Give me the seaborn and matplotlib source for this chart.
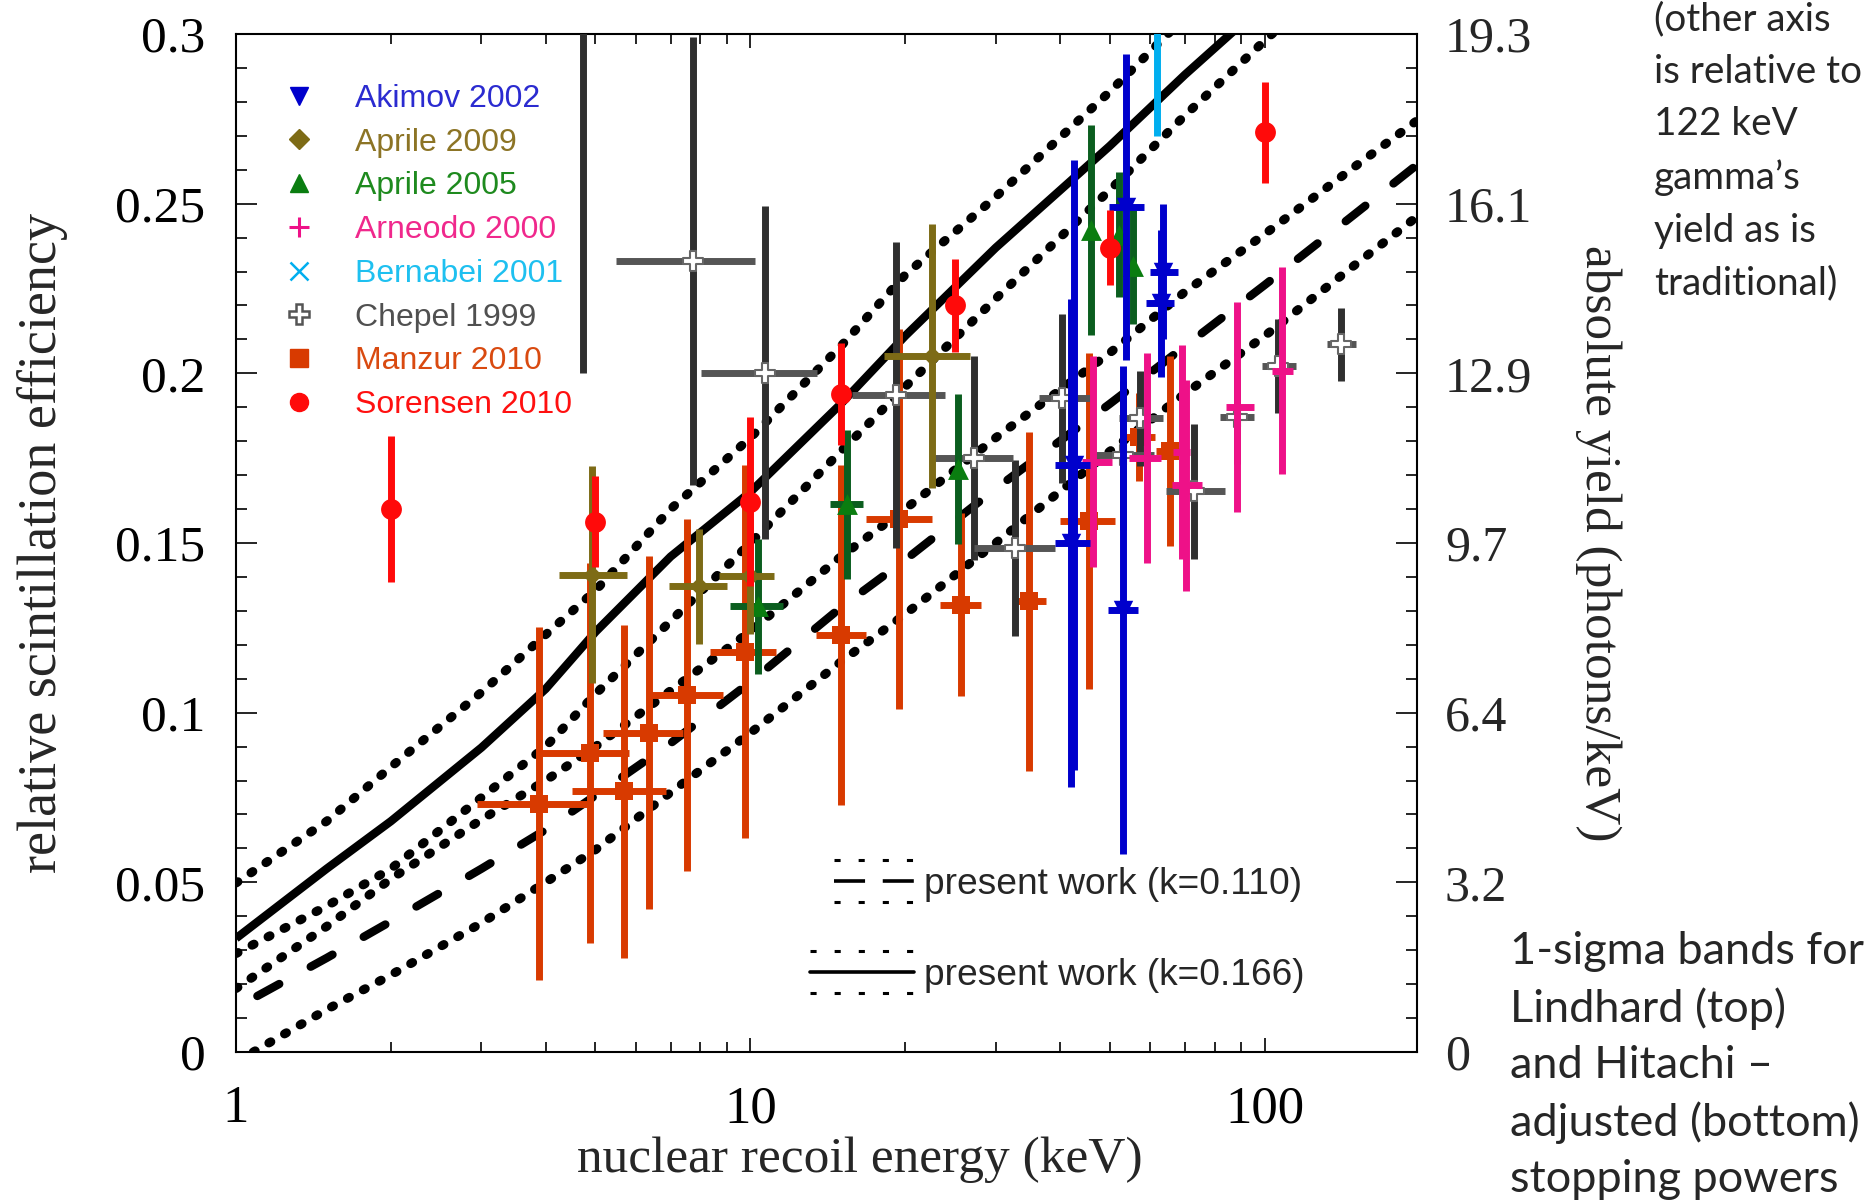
import numpy as np
import pandas as pd
import matplotlib
matplotlib.use("Agg")
import matplotlib.pyplot as plt
import seaborn as sns
from matplotlib.lines import Line2D
from matplotlib.legend_handler import HandlerBase
from matplotlib.ticker import FixedLocator, FixedFormatter, NullFormatter, MultipleLocator, LogLocator

# ---------------- model bands (present work) ----------------
curve_x = [1, 1.5, 2, 3, 4, 5, 7, 10, 15, 20, 30, 50, 70, 100, 150, 200]
lind_upper = [0.0498, 0.068, 0.084, 0.106, 0.123, 0.136, 0.160, 0.181, 0.208, 0.229, 0.252, 0.283, 0.305, 0.327, 0.352, 0.370]
lind_mid = [0.0335, 0.054, 0.068, 0.0897, 0.107, 0.1238, 0.146, 0.165, 0.191, 0.211, 0.237, 0.267, 0.288, 0.309, 0.333, 0.350]
lind_lower = [0.029, 0.043, 0.054, 0.075, 0.090, 0.1055, 0.127, 0.150, 0.177, 0.196, 0.222, 0.254, 0.276, 0.298, 0.322, 0.340]
hit_upper = [0.0187, 0.037, 0.051, 0.0685, 0.080, 0.090, 0.1065, 0.124, 0.146, 0.160, 0.181, 0.206, 0.224, 0.241, 0.261, 0.275]
hit_mid_x = [1.1, 1.5, 2, 3, 4, 5, 7, 10, 15, 20, 30, 50, 70, 100, 150, 200]
hit_mid = [0.0165, 0.0277, 0.0385, 0.054, 0.0655, 0.0756, 0.091, 0.109, 0.131, 0.145, 0.166, 0.191, 0.208, 0.226, 0.247, 0.262]
hit_lower_x = [1.08, 1.5, 2, 3, 4, 5, 7, 10, 15, 20, 30, 50, 70, 100, 150, 200]
hit_lower = [0.0, 0.0125, 0.0227, 0.038, 0.050, 0.0596, 0.0765, 0.094, 0.115, 0.129, 0.150, 0.177, 0.194, 0.211, 0.232, 0.2467]

# ---------------- measurements ----------------
# Manzur 2010
man_x = [3.88, 4.87, 5.67, 6.34, 7.53, 9.78, 15.0, 19.5, 25.7, 34.9, 45.5, 57.1, 65.6]
man_y = [0.0731, 0.0882, 0.0768, 0.0941, 0.1052, 0.118, 0.1229, 0.157, 0.1318, 0.1328, 0.1566, 0.1812, 0.177]
man_xlo = [2.94, 3.92, 4.50, 5.17, 6.37, 8.34, 13.4, 16.8, 23.4, 32.4, 40.1, 53.8, 61.6]
man_xhi = [4.83, 5.82, 6.85, 7.40, 8.85, 11.2, 16.8, 22.6, 28.1, 37.6, 51.1, 61.1, 68.9]
man_err = [0.052, 0.056, 0.049, 0.052, 0.052, 0.055, 0.050, 0.056, 0.027, 0.050, 0.0495, 0.013, 0.028]

# Chepel 1999
che_x = [4.73, 7.74, 10.7, 19.2, 27.2, 32.7, 40.3, 53.0, 57.3, 72.8, 88.5, 106, 141]
che_y = [0.33, 0.2332, 0.2002, 0.1936, 0.175, 0.1486, 0.1926, 0.1758, 0.1868, 0.1652, 0.1872, 0.2022, 0.2085]
che_xlo = [4.73, 5.47, 8.03, 15.8, 22.4, 27.2, 36.4, 46.3, 52.2, 64.2, 81.8, 98.8, 132]
che_xhi = [4.73, 10.2, 13.5, 23.9, 32.4, 39.2, 46.0, 61.0, 63.4, 83.6, 95.5, 115, 150.6]
che_err = [0.13, 0.066, 0.049, 0.045, 0.030, 0.026, 0.025, 0.022, 0.014, 0.020, 0.014, 0.0138, 0.0108]

# Arneodo 2000
arn_x = [46.3, 59.1, 69.1, 70.5, 88.5, 108]
arn_y = [0.174, 0.175, 0.1768, 0.167, 0.190, 0.2007]
arn_xlo = [44.2, 54.4, 66.5, 66.1, 84.3, 103.3]
arn_xhi = [50.5, 62.8, 71.5, 75.6, 95.2, 113.5]
arn_err = [0.031, 0.031, 0.0315, 0.031, 0.031, 0.0305]

# Aprile 2005
a05_x = [10.35, 15.4, 25.4, 46.0, 52.2, 55.5]
a05_y = [0.1313, 0.1614, 0.1718, 0.2422, 0.2409, 0.2316]
a05_xlo = [9.12, 14.3, 25.4, 46.0, 52.2, 55.5]
a05_xhi = [11.6, 16.6, 25.4, 46.0, 52.2, 55.5]
a05_err = [0.020, 0.022, 0.022, 0.031, 0.0185, 0.017]

# Aprile 2009
a09_x = [4.93, 7.95, 9.97, 22.6]
a09_y = [0.1407, 0.1372, 0.1402, 0.2051]
a09_xlo = [4.25, 6.96, 8.71, 18.2]
a09_xhi = [5.75, 9.02, 11.1, 26.7]
a09_err = [0.032, 0.017, 0.017, 0.039]

# Akimov 2002
aki_x = [42.7, 42.1, 53.7, 53.0, 63.5, 62.8]
aki_y = [0.173, 0.150, 0.249, 0.1303, 0.230, 0.2206]
aki_xlo = [39.2, 39.2, 49.8, 49.6, 60.0, 58.9]
aki_xhi = [45.7, 45.7, 58.2, 56.7, 67.9, 66.8]
aki_err = [0.090, 0.072, 0.045, 0.072, 0.020, 0.0216]

# Sorensen 2010
sor_x = [2, 5, 10, 15, 25, 50, 100]
sor_y = [0.160, 0.1563, 0.1622, 0.194, 0.220, 0.237, 0.271]
sor_err = [0.0215, 0.0135, 0.025, 0.015, 0.0138, 0.011, 0.015]

# Bernabei 2001 (central value above the frame)
ber_x = [61.8]
ber_y = [0.33]
ber_err = [0.06]

# axes ticks
y_ticks = [0, 0.05, 0.1, 0.15, 0.2, 0.25, 0.3]
y_ticklabels = ["0", "0.05", "0.1", "0.15", "0.2", "0.25", "0.3"]
yield_ticklabels = ["0", "3.2", "6.4", "9.7", "12.9", "16.1", "19.3"]
x_ticks = [1, 10, 100]
x_ticklabels = ["1", "10", "100"]

# ---------------- style ----------------
sns.set_theme(style="ticks")
plt.rcParams["font.family"] = ["Liberation Serif", "DejaVu Serif"]

C_AKI = "#0000cc"
C_A09 = "#7d6b16"
C_A05 = "#0b5e1f"
C_A05M = "#0a7d10"
C_ARN = "#ee1188"
C_BER = "#00aeef"
C_CHE_V = "#2f2f2f"
C_CHE_H = "#555555"
C_MAN = "#d83a00"
C_SOR = "#ff0a0a"

fig = plt.figure(figsize=(18.72, 12.02), dpi=100)
ax = fig.add_axes([0.1261, 0.1248, 0.6309, 0.8469])
ax.set_xscale("log")

# ---------------- curves ----------------
def draw_curve(xs, ys, kind):
    sns.lineplot(x=xs, y=ys, ax=ax, color="black", sort=False, estimator=None,
                 linewidth=6, zorder=2)
    ln = ax.lines[-1]
    if kind == "dot":
        ln.set_linewidth(6.5)
        ln.set_dashes((0.25, 1.75))
        ln.set_dash_capstyle("round")
    elif kind == "dash":
        ln.set_dashes((3.0, 4.3))
        ln.set_dash_capstyle("round")
    ln.set_solid_capstyle("butt")

draw_curve(curve_x, lind_upper, "dot")
draw_curve(curve_x, lind_mid, "solid")
draw_curve(curve_x, lind_lower, "dot")
draw_curve(curve_x, hit_upper, "dot")
draw_curve(hit_mid_x, hit_mid, "dash")
draw_curve(hit_lower_x, hit_lower, "dot")

# ---------------- error bars + markers ----------------
EW = 5

def xerr_of(x, lo, hi):
    x = np.asarray(x, float)
    return [x - np.asarray(lo, float), np.asarray(hi, float) - x]

def bars(x, y, yerr, xlo=None, xhi=None, vcol="k", hcol=None, z=3):
    ax.errorbar(x, y, yerr=yerr, fmt="none", ecolor=vcol, elinewidth=EW, capsize=0, zorder=z)
    if xlo is not None:
        ax.errorbar(x, y, xerr=xerr_of(x, xlo, xhi), fmt="none", ecolor=hcol or vcol,
                    elinewidth=EW, capsize=0, zorder=z)

def marks(x, y, marker, size, color, edge=None, lw=0, z=4):
    sns.scatterplot(x=x, y=y, marker=marker, s=size ** 2, color=color,
                    edgecolor=edge if edge else color, linewidth=lw, ax=ax, zorder=z, legend=False)

bars(man_x, man_y, man_err, man_xlo, man_xhi, C_MAN, z=3)
marks(man_x, man_y, "s", 13, C_MAN, z=3.1)

bars(che_x, che_y, che_err, che_xlo, che_xhi, C_CHE_V, C_CHE_H, z=3.2)
marks(che_x, che_y, "P", 15, "white", edge="#666666", lw=1.5, z=3.3)

bars(arn_x, arn_y, arn_err, arn_xlo, arn_xhi, C_ARN, z=3.4)

bars(a05_x, a05_y, a05_err, a05_xlo, a05_xhi, C_A05, z=3.5)
marks(a05_x, a05_y, "^", 15, C_A05M, z=3.6)

bars(a09_x, a09_y, a09_err, a09_xlo, a09_xhi, C_A09, z=3.7)
marks(a09_x, a09_y, "D", 10, C_A09, z=3.8)

bars(aki_x, aki_y, aki_err, aki_xlo, aki_xhi, C_AKI, z=3.9)
marks(aki_x, aki_y, "v", 14, C_AKI, z=4.0)

bars(sor_x, sor_y, sor_err, None, None, C_SOR, z=4.1)
marks(sor_x, sor_y, "o", 15, C_SOR, z=4.2)

bars(ber_x, ber_y, ber_err, None, None, C_BER, z=4.3)

# ---------------- axes ----------------
ax.set_xlim(1, 198)
ax.set_ylim(0, 0.3)
ax.xaxis.set_major_locator(FixedLocator(x_ticks))
ax.xaxis.set_major_formatter(FixedFormatter(x_ticklabels))
ax.xaxis.set_minor_locator(LogLocator(base=10, subs=np.arange(2, 10), numticks=20))
ax.xaxis.set_minor_formatter(NullFormatter())
ax.yaxis.set_major_locator(FixedLocator(y_ticks))
ax.yaxis.set_major_formatter(FixedFormatter(y_ticklabels))
ax.yaxis.set_minor_locator(MultipleLocator(0.01))

ax.tick_params(axis="both", which="both", direction="in", top=True, bottom=True,
               left=True, right=False, width=1.2, color="black", labelcolor="black")
ax.tick_params(axis="y", which="major", length=15, pad=22, labelsize=37)
ax.tick_params(axis="y", which="minor", length=8)
ax.tick_params(axis="x", which="major", length=10, pad=24, labelsize=38)
ax.tick_params(axis="x", which="minor", length=7)
for s in ax.spines.values():
    s.set_color("black")
    s.set_linewidth(1.5)

ax.set_xlabel("nuclear recoil energy (keV)", fontsize=37)
ax.xaxis.set_label_coords(0.528, -0.083)
ax.set_ylabel("relative scintillation efficiency", fontsize=39, va="center")
ax.yaxis.set_label_coords(-0.164, 0.5)

ax2 = ax.twinx()
ax2.set_ylim(0, 0.3)
ax2.yaxis.set_major_locator(FixedLocator(y_ticks))
ax2.yaxis.set_major_formatter(FixedFormatter(yield_ticklabels))
ax2.yaxis.set_minor_locator(MultipleLocator(0.01))
ax2.tick_params(axis="y", which="both", direction="in", width=1.2, color="black")
ax2.tick_params(axis="y", which="major", length=15, pad=20, labelsize=36)
ax2.tick_params(axis="y", which="minor", length=8)
ax2.set_ylabel("absolute yield (photons/keV)", fontsize=37, rotation=270, va="center")
ax2.yaxis.set_label_coords(1.153, 0.5)
for s in ax2.spines.values():
    s.set_visible(False)

# ---------------- series legend ----------------
leg_names = ["Akimov 2002", "Aprile 2009", "Aprile 2005", "Arneodo 2000",
             "Bernabei 2001", "Chepel 1999", "Manzur 2010", "Sorensen 2010"]
leg_text_colors = ["#2b2bd0", "#8c7425", "#1e8a1e", "#f0288c", "#1ec0f0", "#505050", "#d94a10", "#ff1010"]
handles = [
    Line2D([], [], ls="none", marker="v", ms=13, color=C_AKI),
    Line2D([], [], ls="none", marker="D", ms=10, color=C_A09),
    Line2D([], [], ls="none", marker="^", ms=13, color="#0a7d10"),
    Line2D([], [], ls="none", marker="+", ms=15, mew=2.2, color=C_ARN),
    Line2D([], [], ls="none", marker="x", ms=13, mew=1.8, color=C_BER),
    Line2D([], [], ls="none", marker="P", ms=14, mfc="white", mec="#555555", mew=1.8),
    Line2D([], [], ls="none", marker="s", ms=13, color=C_MAN),
    Line2D([], [], ls="none", marker="o", ms=13, color=C_SOR),
]
leg1 = ax.legend(handles, leg_names, loc="upper left", bbox_to_anchor=(0.040, 0.951),
                 frameon=False, handlelength=1.0, handletextpad=1.25,
                 labelspacing=0.43, borderpad=0, borderaxespad=0,
                 prop={"family": ["Liberation Sans", "DejaVu Sans"], "size": 23})
for t, c in zip(leg1.get_texts(), leg_text_colors):
    t.set_color(c)
ax.add_artist(leg1)

# ---------------- band legend ----------------
class BandHandler(HandlerBase):
    def __init__(self, main_dashes, frac):
        super().__init__()
        self.main_dashes = main_dashes
        self.frac = frac

    def create_artists(self, legend, orig_handle, xdescent, ydescent, width, height, fontsize, trans):
        x1 = -xdescent + width
        x0 = x1 - width * self.frac
        yc = -ydescent + height / 2
        off = 0.57 * fontsize
        arts = []
        for dy in (off, -off):
            l = Line2D([x0, x1], [yc + dy, yc + dy], color="black", lw=2.2, dashes=(2.0, 5.9))
            l.set_transform(trans)
            arts.append(l)
        m = Line2D([x0, x1], [yc, yc], color="black", lw=2.6)
        if self.main_dashes is not None:
            m.set_dashes(self.main_dashes)
        m.set_transform(trans)
        arts.append(m)
        return arts

h110 = Line2D([], [])
h166 = Line2D([], [])
leg2 = ax.legend([h110, h166], ["present work (k=0.110)", "present work (k=0.166)"],
                 handler_map={h110: BandHandler((8.6, 4.9), 0.77), h166: BandHandler(None, 1.0)},
                 loc="upper left", bbox_to_anchor=(0.486, 0.182), frameon=False,
                 handlelength=2.8, handletextpad=0.26, labelspacing=1.51,
                 borderpad=0, borderaxespad=0,
                 prop={"family": ["Liberation Sans", "DejaVu Sans"], "size": 26.7})

# ---------------- side notes ----------------
fig.text(0.8835, 0.999, "(other axis\nis relative to\n122 keV\ngamma\u2019s\nyield as is\ntraditional)",
         ha="left", va="top", fontsize=27.8, family=["Lato", "DejaVu Sans"], linespacing=1.573)
fig.text(0.8066, 0.2255, "1-sigma bands for\nLindhard (top)\nand Hitachi \u2013\nadjusted (bottom)\nstopping powers",
         ha="left", va="top", fontsize=32.5, family=["Lato", "DejaVu Sans"], linespacing=1.45)

fig.savefig("out.png", dpi=100)
